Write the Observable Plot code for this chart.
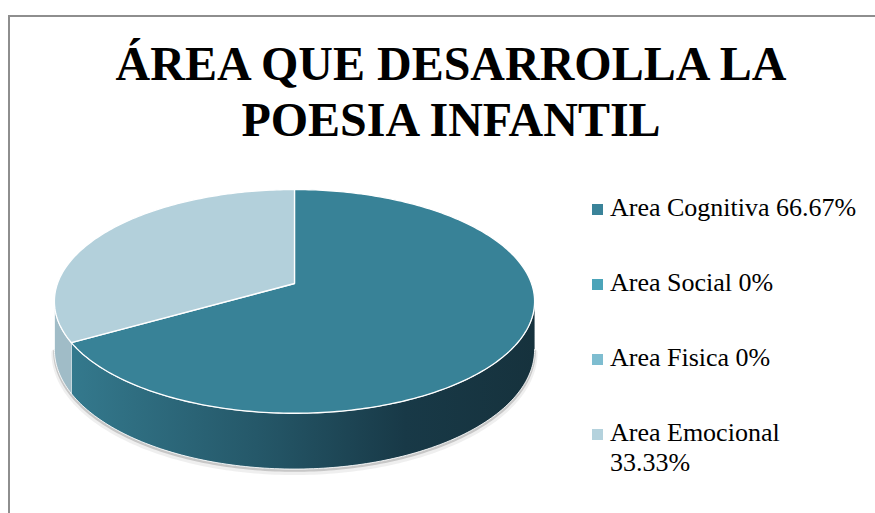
<!DOCTYPE html>
<html>
<head>
<meta charset="utf-8">
<script src="https://cdn.jsdelivr.net/npm/d3@7"></script>
<script src="https://cdn.jsdelivr.net/npm/@observablehq/plot@0.6"></script>
<style>
  html, body { margin: 0; padding: 0; background: #fff; overflow: hidden; }
  #wrap { position: relative; width: 875px; height: 513px; overflow: hidden; font-family: "Liberation Serif", "Times New Roman", serif; }
  #frame { position: absolute; left: 8px; top: 15px; width: 900px; height: 540px; border-left: 2px solid #8e8e8e; border-top: 2px solid #8e8e8e; box-sizing: border-box; }
  #title { position: absolute; left: 26px; width: 850px; top: 36px; text-align: center; font-weight: bold; font-size: 48px; line-height: 56px; color: #000; }
  #chart { position: absolute; left: 0; top: 0; }
  #legend { position: absolute; left: 592px; top: 193px; }
  .item { position: relative; height: 75px; }
  .sw { position: absolute; left: 0; top: 11px; width: 11px; height: 11px; }
  .lbl { position: absolute; left: 18px; top: 0; width: 251px; font-size: 26px; line-height: 30px; color: #000; }
</style>
</head>
<body>
<div id="wrap">
  <div id="frame"></div>
  <div id="chart"></div>
  <div id="title">ÁREA QUE DESARROLLA LA<br>POESIA INFANTIL</div>
  <div id="legend"></div>
</div>
<script>
// ---- data ----
const categories = ["Area Cognitiva", "Area Social", "Area Fisica", "Area Emocional"];
const values = [66.67, 0, 0, 33.33];
const valueLabels = ["66.67%", "0%", "0%", "33.33%"];
const topColors = ["#388297", "#4ba4b9", "#7ebdd0", "#b3d0db"];
const sideColors = ["url(#sideGrad)", "#3c8a9e", "#6aa6b8", "#a0bcc7"];
const legendColors = ["#3a8399", "#4ba4b9", "#7ebdd0", "#b4d2dd"];

// ---- 3D perspective pie geometry ----
const persp = 0.16;   // perspective strength
const depth = 0.43;   // extrusion height in y-units
const deg = Math.PI / 180;

function proj(a, dz = 0) {
  const u = Math.sin(a), v = -Math.cos(a);
  const s = 1 / (1 - persp * v);
  return {x: u * s, y: (v + dz) * s};
}
function arcPts(a0, a1, dz) {
  const n = Math.max(2, Math.ceil(Math.abs(a1 - a0) / deg));
  const pts = [];
  for (let i = 0; i <= n; i++) pts.push(proj(a0 + (a1 - a0) * i / n, dz));
  return pts;
}
const center = {x: 0, y: 0};

const arcs = d3.pie().sort(null).value(d => d)(values);
const visStart = Math.acos(-persp);
const visEnd = 2 * Math.PI - visStart;

const marks = [];

// soft shadow along the lower silhouette
const shadowPts = arcPts(visStart, visEnd, depth);
marks.push(Plot.line(shadowPts, {x: "x", y: "y", stroke: "#7a7a7a", strokeWidth: 6, strokeOpacity: 0.12, dy: 3, curve: "linear"}));
marks.push(Plot.line(shadowPts, {x: "x", y: "y", stroke: "#6a6a6a", strokeWidth: 2.5, strokeOpacity: 0.3, dy: 1.5, curve: "linear"}));

// side walls
arcs.forEach((a, i) => {
  if (values[i] <= 0) return;
  const c0 = Math.max(a.startAngle, visStart), c1 = Math.min(a.endAngle, visEnd);
  if (c1 <= c0) return;
  const poly = arcPts(c0, c1, 0).concat(arcPts(c1, c0, depth));
  marks.push(Plot.line(poly, {x: "x", y: "y", fill: sideColors[i], stroke: "#ffffff", strokeWidth: 1, strokeOpacity: 0.85, curve: "linear"}));
});

// top faces
arcs.forEach((a, i) => {
  if (values[i] <= 0) return;
  const poly = [center].concat(arcPts(a.startAngle, a.endAngle, 0)).concat([center]);
  marks.push(Plot.line(poly, {x: "x", y: "y", fill: topColors[i], stroke: "#ffffff", strokeWidth: 1.3, curve: "linear"}));
});

const cx = 294, rx = 237, cy = 283, ry = 109;
const svg = Plot.plot({
  width: 875,
  height: 513,
  margin: 0,
  style: {background: "transparent", overflow: "visible"},
  x: {domain: [-1, 1], range: [cx - rx, cx + rx], axis: null},
  y: {domain: [-1, 1], range: [cy - ry, cy + ry], axis: null},
  marks
});

const defs = d3.select(svg).insert("defs", ":first-child");
const g = defs.append("linearGradient").attr("id", "sideGrad")
  .attr("x1", 0).attr("y1", 0).attr("x2", 1).attr("y2", 0);
[[0, "#34798d"], [0.4, "#255869"], [0.72, "#183947"], [1, "#16323d"]].forEach(([o, c]) =>
  g.append("stop").attr("offset", o).attr("stop-color", c));

document.getElementById("chart").appendChild(svg);

// ---- legend ----
const legend = d3.select("#legend");
categories.forEach((c, i) => {
  const it = legend.append("div").attr("class", "item");
  it.append("div").attr("class", "sw").style("background", legendColors[i]);
  it.append("div").attr("class", "lbl").text(c + " " + valueLabels[i]);
});
</script>
</body>
</html>
